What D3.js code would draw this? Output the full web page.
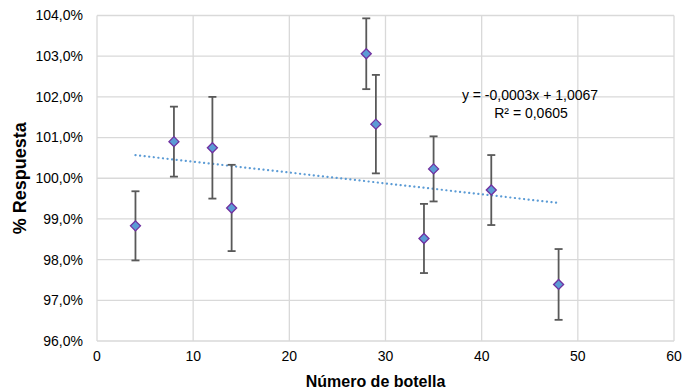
<!DOCTYPE html>
<html>
<head>
<meta charset="utf-8">
<script src="https://cdn.jsdelivr.net/npm/d3@7"></script>
<style>
  body { margin: 0; background: #fff; }
  text { font-family: "Liberation Sans", Arial, sans-serif; fill: #000; }
</style>
</head>
<body>
<div id="chart"></div>
<script>
// Datos
const botellas = [4, 8, 12, 14, 28, 29, 34, 35, 41, 48];
const respuesta = [98.83, 100.90, 100.75, 99.27, 103.06, 101.33, 98.52, 100.23, 99.71, 97.39];
const errores = [0.85, 0.86, 1.25, 1.06, 0.87, 1.21, 0.85, 0.80, 0.86, 0.87];
const xTicks = [0, 10, 20, 30, 40, 50, 60];
const yTicks = [96, 97, 98, 99, 100, 101, 102, 103, 104];
const ecuacion = ["y = -0,0003x + 1,0067", "R² = 0,0605"];

const width = 685, height = 392;
const margin = { top: 15.5, right: 11, bottom: 51, left: 97 };

const svg = d3.select("#chart").append("svg")
  .attr("width", width)
  .attr("height", height);

const x = d3.scaleLinear().domain([0, 60]).range([margin.left, width - margin.right]);
const y = d3.scaleLinear().domain([96, 104]).range([height - margin.bottom, margin.top]);

const fmt = v => v.toFixed(1).replace(".", ",") + "%";

// Rejilla
const grid = svg.append("g").attr("stroke", "#d9d9d9").attr("stroke-width", 1.3);
xTicks.forEach(t => {
  grid.append("line").attr("x1", x(t)).attr("x2", x(t)).attr("y1", y(96)).attr("y2", y(104));
});
yTicks.forEach(t => {
  grid.append("line").attr("x1", x(0)).attr("x2", x(60)).attr("y1", y(t)).attr("y2", y(t));
});

// Etiquetas de los ejes
svg.append("g").selectAll("text").data(yTicks).join("text")
  .attr("x", x(0) - 14)
  .attr("y", d => y(d))
  .attr("dy", "0.35em")
  .attr("text-anchor", "end")
  .style("font-size", "14px")
  .text(fmt);

svg.append("g").selectAll("text").data(xTicks).join("text")
  .attr("x", d => x(d))
  .attr("y", y(96) + 20)
  .attr("text-anchor", "middle")
  .style("font-size", "14px")
  .text(d => d);

svg.append("text")
  .attr("x", (x(0) + x(60)) / 2 - 10)
  .attr("y", 387)
  .attr("text-anchor", "middle")
  .style("font-size", "16px")
  .style("font-weight", "bold")
  .text("Número de botella");

svg.append("text")
  .attr("transform", `translate(26, ${(y(96) + y(104)) / 2}) rotate(-90)`)
  .attr("text-anchor", "middle")
  .style("font-size", "18px")
  .style("font-weight", "bold")
  .text("% Respuesta");

// Línea de tendencia (mínimos cuadrados)
const mx = d3.mean(botellas), my = d3.mean(respuesta);
const sxy = d3.sum(botellas, (b, i) => (b - mx) * (respuesta[i] - my));
const sxx = d3.sum(botellas, b => (b - mx) ** 2);
const pend = sxy / sxx, corte = my - pend * mx;
const xr = d3.extent(botellas);
svg.append("line")
  .attr("x1", x(xr[0])).attr("y1", y(corte + pend * xr[0]))
  .attr("x2", x(xr[1])).attr("y2", y(corte + pend * xr[1]))
  .attr("stroke", "#5b9bd5")
  .attr("stroke-width", 2.2)
  .attr("stroke-dasharray", "0.1,4.5")
  .attr("stroke-linecap", "round");

// Barras de error
const eb = svg.append("g").attr("stroke", "#595959").attr("stroke-width", 1.8);
botellas.forEach((b, i) => {
  const lo = respuesta[i] - errores[i], hi = respuesta[i] + errores[i];
  eb.append("line").attr("x1", x(b)).attr("x2", x(b)).attr("y1", y(lo)).attr("y2", y(hi));
  eb.append("line").attr("x1", x(b) - 4).attr("x2", x(b) + 4).attr("y1", y(lo)).attr("y2", y(lo));
  eb.append("line").attr("x1", x(b) - 4).attr("x2", x(b) + 4).attr("y1", y(hi)).attr("y2", y(hi));
});

// Puntos (rombos)
const rombo = d3.symbol().type(d3.symbolDiamond2).size(64);
svg.append("g").selectAll("path").data(botellas).join("path")
  .attr("transform", (b, i) => `translate(${x(b)}, ${y(respuesta[i])})`)
  .attr("d", rombo)
  .attr("fill", "#5b9bd5")
  .attr("stroke", "#7030a0")
  .attr("stroke-width", 1.3);

// Ecuación
svg.append("g").selectAll("text").data(ecuacion).join("text")
  .attr("x", (d, i) => i === 0 ? 530 : 531)
  .attr("y", (d, i) => 100 + i * 18)
  .attr("text-anchor", "middle")
  .style("font-size", "14px")
  .text(d => d);
</script>
</body>
</html>
